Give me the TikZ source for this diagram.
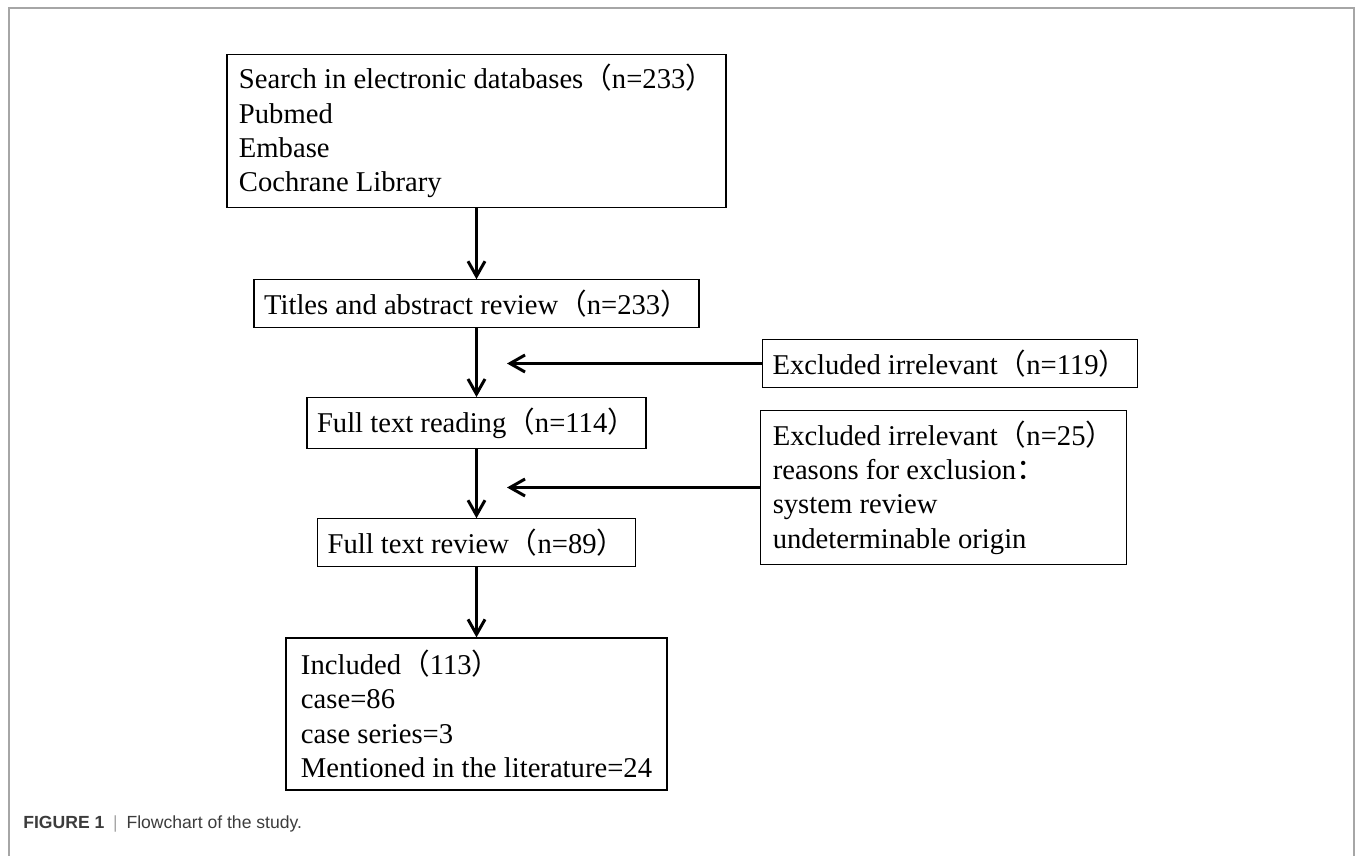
\documentclass[tikz,border=0pt]{standalone}
\usepackage{fontspec}
\setmainfont{Liberation Serif}
\newfontfamily\cjk{Noto Sans CJK SC}
\newfontfamily\capfont{Liberation Sans}
\usetikzlibrary{arrows.meta}
\definecolor{framegray}{HTML}{A6A6A6}
\definecolor{capgray}{HTML}{3C3C3C}
\newcommand{\fwlp}{{\cjk （}}
\newcommand{\fwrp}{{\cjk ）}}
\newcommand{\fwcolon}{{\cjk ：}}
\tikzstyle{stepbox} = [rectangle, draw, line width=0.7pt, text centered, minimum height=0.94cm, inner sep=0.2cm]
\tikzstyle{listbox} = [rectangle, draw, line width=0.7pt, align=left, inner xsep=0.24cm, inner ysep=0.2cm]
\tikzstyle{connector} = [draw, line width=1.7pt, -{Straight Barb[length=3mm,width=3.4mm]}]
\begin{document}
\begin{tikzpicture}[font=\fontsize{16.3}{19.5}\selectfont]

\useasboundingbox (0,0) rectangle (27.1,-17.12);
\draw[framegray, line width=1.1pt] (0.18,-17.12) -- (0.18,-0.16) -- (27.08,-0.16) -- (27.08,-17.12);

\node[listbox, minimum width=9.9cm, minimum height=3.04cm] at (9.53,-2.62) (search) {Search in electronic databases\fwlp n=233\fwrp\\Pubmed\\Embase\\Cochrane Library};

\node[stepbox, minimum width=8.72cm] at (9.53,-6.07) (titles) {Titles and abstract review\fwlp n=233\fwrp};
\node[stepbox, minimum width=7.44cm] at (19.0,-7.27) (exclIrrelevant) {Excluded irrelevant\fwlp n=119\fwrp};

\node[stepbox, minimum width=6.62cm] at (9.53,-8.46) (fullReading) {Full text reading\fwlp n=114\fwrp};
\node[listbox, minimum width=7.18cm, minimum height=3.06cm] at (18.87,-9.75) (exclReasons) {Excluded irrelevant\fwlp n=25\fwrp\\reasons for exclusion\fwcolon\\system review\\undeterminable origin};

\node[stepbox, minimum width=6.02cm] at (9.53,-10.85) (fullReview) {Full text review\fwlp n=89\fwrp};

\node[listbox, minimum width=7.62cm, minimum height=3.04cm] at (9.53,-14.28) (included) {Included\fwlp 113\fwrp\\case=86\\case series=3\\Mentioned in the literature=24};

\coordinate (exclIrrelevantEnd) at (10.14,-7.27);
\coordinate (exclReasonsEnd) at (10.14,-9.75);

\path [connector] (search) -- (titles);
\path [connector] (titles) -- (fullReading);
\path [connector] (fullReading) -- (fullReview);
\path [connector] (fullReview) -- (included);
\path [connector] (exclIrrelevant.west) -- (exclIrrelevantEnd);
\path [connector] (exclReasons.west) -- (exclReasonsEnd);

\node[anchor=base west, font=\capfont\fontsize{10}{12}\selectfont, text=capgray, inner sep=0] at (0.46,-16.56) (caption) {\textbf{FIGURE 1}\enspace{\color{framegray}|}\enspace Flowchart of the study.};

\end{tikzpicture}
\end{document}
